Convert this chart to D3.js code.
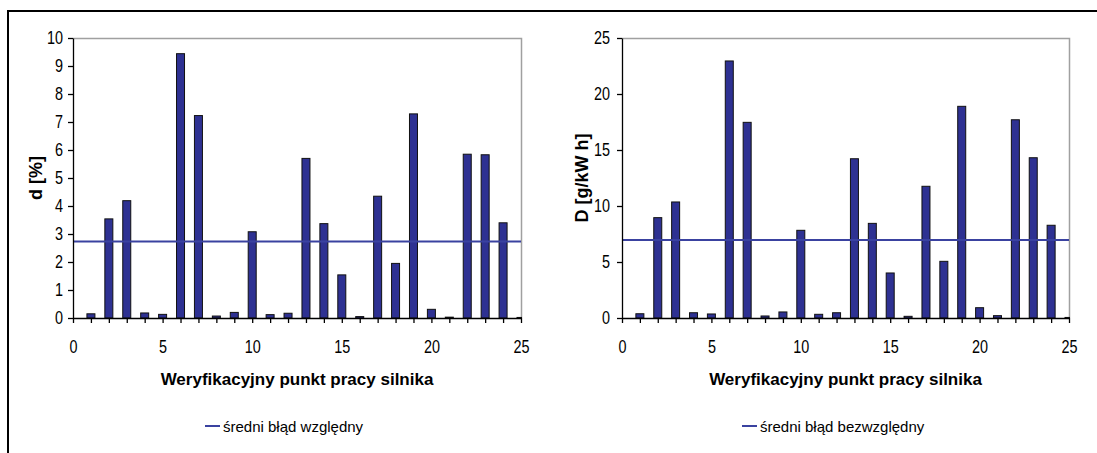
<!DOCTYPE html>
<html>
<head>
<meta charset="utf-8">
<script src="https://cdn.jsdelivr.net/npm/d3@7"></script>
<style>
  body { margin: 0; background: #fff; }
  svg text { font-family: "Liberation Sans", Arial, sans-serif; fill: #000; }
</style>
</head>
<body>
<svg id="chart" width="1097" height="453"></svg>
<script>
// punkty pracy 1..25
var points = d3.range(1, 26);

// blad wzgledny d [%]
var relErr = [0.15, 3.54, 4.19, 0.18, 0.13, 9.44, 7.23, 0.07, 0.20, 3.08,
              0.12, 0.17, 5.70, 3.37, 1.54, 0.05, 4.35, 1.95, 7.29, 0.31,
              0.03, 5.85, 5.83, 3.40, 0.02];
var relMean = 2.73;

// blad bezwzgledny D [g/kWh]
var absErr = [0.38, 8.96, 10.36, 0.47, 0.36, 22.95, 17.47, 0.18, 0.54, 7.83,
              0.33, 0.47, 14.22, 8.45, 4.02, 0.15, 11.76, 5.06, 18.90, 0.92,
              0.21, 17.70, 14.31, 8.28, 0.05];
var absMean = 6.97;

var xTicks = [0, 5, 10, 15, 20, 25];
var relTicks = d3.range(0, 11, 1);
var absTicks = [0, 5, 10, 15, 20, 25];

var xTitle = 'Weryfikacyjny punkt pracy silnika';

var svg = d3.select('#chart');
var NARROW = 0.8;  // zwezenie czcionki (Arial Narrow w oryginale)

// ramka
svg.append('line').attr('x1', 7).attr('x2', 1097).attr('y1', 11).attr('y2', 11)
  .attr('stroke', '#000').attr('stroke-width', 2);
svg.append('line').attr('x1', 8).attr('x2', 8).attr('y1', 10).attr('y2', 453)
  .attr('stroke', '#000').attr('stroke-width', 2);

var BAR = '#2E3192';
var LINE = '#3A42A0';

function drawPanel(opt) {
  var g = svg.append('g');
  var x = d3.scaleLinear().domain([0, 25]).range([opt.left, opt.right]);
  var y = d3.scaleLinear().domain([0, opt.yMax]).range([318, 38]);

  // ramka obszaru wykresu (gora, prawo)
  g.append('path')
    .attr('d', 'M' + opt.left + ',38.5H' + (opt.right + 0.5) + 'V318')
    .attr('fill', 'none').attr('stroke', '#a0a0a0').attr('stroke-width', 1.5);

  var clipId = 'clip' + opt.id;
  g.append('clipPath').attr('id', clipId).append('rect')
    .attr('x', opt.left).attr('y', 30).attr('width', opt.right - opt.left + 1).attr('height', 300);

  g.append('g').attr('clip-path', 'url(#' + clipId + ')')
    .selectAll('rect').data(opt.values).enter().append('rect')
    .attr('x', function (d, i) { return x(points[i]) - 4; })
    .attr('width', 8)
    .attr('y', function (d) { return y(d); })
    .attr('height', function (d) { return Math.max(1, 318 - y(d)); })
    .attr('fill', BAR)
    .attr('stroke', '#111')
    .attr('stroke-width', 1);

  // srednia
  g.append('line')
    .attr('x1', x(0)).attr('x2', x(25))
    .attr('y1', y(opt.mean)).attr('y2', y(opt.mean))
    .attr('stroke', LINE).attr('stroke-width', 2);

  // os Y
  var ya = g.append('g').attr('transform', 'translate(' + opt.left + ',0)')
    .call(d3.axisLeft(y).tickValues(opt.yTicks).tickSize(5).tickPadding(opt.yPad).tickSizeOuter(0));
  ya.selectAll('text')
    .style('font-size', '18px')
    .attr('x', -(5 + opt.yPad) / NARROW)
    .attr('transform', 'scale(' + NARROW + ',1)');

  // os X
  var xa = g.append('g').attr('transform', 'translate(0,318)')
    .call(d3.axisBottom(x).tickValues(d3.range(0, 26)).tickSize(5).tickPadding(17).tickSizeOuter(0)
      .tickFormat(function (d) { return xTicks.indexOf(d) >= 0 ? d : ''; }));
  xa.selectAll('text')
    .style('font-size', '18px')
    .attr('transform', 'scale(' + NARROW + ',1)');
  [ya, xa].forEach(function (a) {
    a.selectAll('.domain, line').attr('stroke', '#000').attr('stroke-width', 1.3);
  });

  // tytuly osi
  g.append('text')
    .attr('x', (opt.left + opt.right) / 2).attr('y', 385)
    .attr('text-anchor', 'middle')
    .style('font-size', '17px').style('font-weight', 'bold')
    .text(xTitle);

  g.append('text')
    .attr('transform', 'translate(' + opt.yLabelX + ',178) rotate(-90)')
    .attr('text-anchor', 'middle')
    .style('font-size', '18px').style('font-weight', 'bold')
    .text(opt.yLabel);

  // legenda
  g.append('line')
    .attr('x1', opt.legX).attr('x2', opt.legX + 15)
    .attr('y1', 426).attr('y2', 426)
    .attr('stroke', LINE).attr('stroke-width', 2);
  g.append('text')
    .attr('x', opt.legX + 18).attr('y', 432)
    .style('font-size', '15px')
    .text(opt.legend);
}

drawPanel({
  id: 1, left: 73, right: 521, yMax: 10, yTicks: relTicks, yPad: 5,
  values: relErr, mean: relMean, yLabel: 'd  [%]', yLabelX: 42,
  legX: 205, legend: 'średni błąd względny'
});

drawPanel({
  id: 2, left: 622, right: 1069, yMax: 25, yTicks: absTicks, yPad: 7,
  values: absErr, mean: absMean, yLabel: 'D  [g/kW h]', yLabelX: 588,
  legX: 742, legend: 'średni błąd bezwzględny'
});
</script>
</body>
</html>
